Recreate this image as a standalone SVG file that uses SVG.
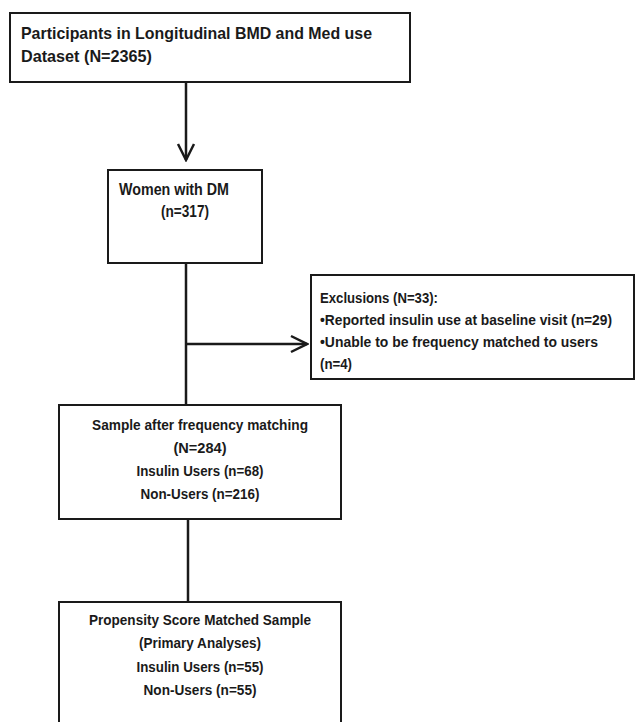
<svg xmlns="http://www.w3.org/2000/svg" width="636" height="722" viewBox="0 0 636 722">
<style>
.box{fill:#fff;stroke:#1a1a1a;stroke-width:2}
.t{font-family:"Liberation Sans",Arial,sans-serif;font-weight:bold;fill:#1a1a1a}
.big{font-size:17px}
.sm{font-size:15px}
.xs{font-size:14px}
.c{text-anchor:middle}
.ln{stroke:#1a1a1a;stroke-width:2.5;fill:none}
</style>
<defs>
<marker id="chev" viewBox="0 0 20 20" refX="18" refY="10" markerWidth="20" markerHeight="20" markerUnits="userSpaceOnUse" orient="auto">
<path d="M2,2 L18,10 L2,18" fill="none" stroke="#1a1a1a" stroke-width="2.5"/>
</marker>
</defs>
<rect width="636" height="722" fill="#fff"/>
<g id="connectors">
<line class="ln" x1="186" y1="82" x2="186" y2="160" marker-end="url(#chev)"/>
<line class="ln" x1="186" y1="263" x2="186" y2="405"/>
<line class="ln" x1="186" y1="344" x2="307" y2="344" marker-end="url(#chev)"/>
<line class="ln" x1="188" y1="519" x2="188" y2="602"/>
</g>
<g id="n1">
<rect class="box" x="10" y="13" width="400" height="69"/>
<text class="t big" x="21" y="39" textLength="351" lengthAdjust="spacingAndGlyphs">Participants in Longitudinal BMD and Med use</text>
<text class="t big" x="21" y="62" textLength="131" lengthAdjust="spacingAndGlyphs">Dataset (N=2365)</text>
</g>
<g id="n2">
<rect class="box" x="108" y="170" width="154" height="93"/>
<text class="t big" x="119" y="195" textLength="110" lengthAdjust="spacingAndGlyphs">Women with DM</text>
<text class="t big" x="161" y="217" textLength="48" lengthAdjust="spacingAndGlyphs">(n=317)</text>
</g>
<g id="n3">
<rect class="box" x="311" y="275" width="323" height="104"/>
<text class="t xs" x="320" y="303" textLength="118" lengthAdjust="spacingAndGlyphs">Exclusions (N=33):</text>
<text class="t xs" x="320" y="325" textLength="292" lengthAdjust="spacingAndGlyphs">•Reported insulin use at baseline visit (n=29)</text>
<text class="t xs" x="320" y="347" textLength="278" lengthAdjust="spacingAndGlyphs">•Unable to be frequency matched to users</text>
<text class="t xs" x="320" y="369" textLength="32" lengthAdjust="spacingAndGlyphs">(n=4)</text>
</g>
<g id="n4">
<rect class="box" x="59" y="405" width="282" height="114"/>
<text class="t sm c" x="200" y="430" textLength="216" lengthAdjust="spacingAndGlyphs">Sample after frequency matching</text>
<text class="t sm c" x="200" y="453" textLength="53" lengthAdjust="spacingAndGlyphs">(N=284)</text>
<text class="t sm c" x="200" y="476" textLength="127" lengthAdjust="spacingAndGlyphs">Insulin Users (n=68)</text>
<text class="t sm c" x="200" y="499" textLength="119" lengthAdjust="spacingAndGlyphs">Non-Users (n=216)</text>
</g>
<g id="n5">
<rect class="box" x="59" y="602" width="282" height="130"/>
<text class="t sm c" x="200" y="625" textLength="222" lengthAdjust="spacingAndGlyphs">Propensity Score Matched Sample</text>
<text class="t sm c" x="200" y="648" textLength="122" lengthAdjust="spacingAndGlyphs">(Primary Analyses)</text>
<text class="t sm c" x="200" y="672" textLength="127" lengthAdjust="spacingAndGlyphs">Insulin Users (n=55)</text>
<text class="t sm c" x="200" y="695" textLength="113" lengthAdjust="spacingAndGlyphs">Non-Users (n=55)</text>
</g>
</svg>
